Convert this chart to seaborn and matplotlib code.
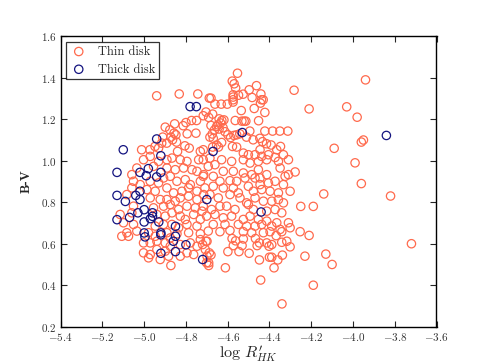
import numpy as np
import pandas as pd
import matplotlib
matplotlib.use("Agg")
import matplotlib.pyplot as plt
import seaborn as sns

# ---- data ----
thin_x = [
    -3.94, -4.21, -4.03, -3.98, -3.95, -3.96, -4.09, -3.99, -3.96, -4.14, -3.82, -4.19, -4.25, -4.21,
    -3.72, -4.23, -4.13, -4.10, -4.19, -4.34,
    -4.940, -4.832, -4.743, -4.688, -4.749, -4.773, -4.800, -4.813, -4.854, -4.899, -4.877, -4.857,
    -4.848, -4.872, -4.864, -4.845, -4.892, -4.911, -4.916, -4.948, -4.931, -4.972, -4.794, -4.752,
    -4.805, -4.784, -5.012,
    -4.553, -4.578, -4.569, -4.562, -4.462, -4.497, -4.282, -4.526, -4.548, -4.574, -4.574, -4.574,
    -4.574, -4.441, -4.680, -4.483, -4.438, -4.430, -4.443, -4.661, -4.631, -4.602, -4.535, -4.473,
    -4.422, -4.704, -4.717, -4.691, -4.672, -4.641, -4.628, -4.618, -4.634, -4.647, -4.564, -4.532,
    -4.521, -4.513, -4.452, -4.680, -4.653, -4.663, -4.674, -4.685, -4.669, -4.641, -4.622, -4.613,
    -4.599, -4.586, -4.570, -4.557, -4.542, -4.494, -4.422, -4.385, -4.350, -4.312, -4.510, -4.478,
    -4.446, -4.433, -4.414, -4.392, -4.347, -4.629, -4.653, -4.672, -4.644, -4.577, -4.557,
    -4.840, -4.731, -5.003, -4.971, -4.931, -4.891, -4.867, -4.827, -4.795, -4.739, -5.035, -5.059,
    -4.955, -4.891, -4.851, -4.811, -4.771, -4.747, -4.715, -5.051, -5.019, -4.971, -4.931, -4.907,
    -4.875, -4.843, -4.803, -4.779, -4.731, -5.059, -4.987, -4.947, -4.891, -4.859, -4.819, -4.787,
    -4.747, -4.715, -5.083, -4.971, -4.923, -4.891, -4.851, -4.827, -4.787, -4.747, -5.051, -4.955,
    -4.907, -4.875, -4.835, -4.795, -4.755, -4.723, -5.115, -5.059, -4.939, -4.899, -4.867, -4.827,
    -4.803, -4.763, -4.731, -5.099, -5.051, -4.947, -4.907, -4.867, -4.835, -4.795, -4.747, -5.083,
    -5.035, -4.979, -4.891, -4.843, -4.787, -4.731,
    -5.107, -5.075, -4.947, -4.875, -4.731, -4.699, -5.003, -4.971, -4.939, -4.899, -4.875, -4.827,
    -4.779, -4.747, -4.707, -5.003, -4.971, -4.939, -4.899, -4.883, -4.827, -4.795, -4.763, -4.699,
    -4.979, -4.923, -4.872, -4.691,
    -4.717, -4.445, -4.365, -4.525, -4.501, -4.469, -4.437, -4.405, -4.373, -4.333, -4.717, -4.685,
    -4.629, -4.581, -4.525, -4.493, -4.453, -4.413, -4.357, -4.309, -4.693, -4.661, -4.621, -4.573,
    -4.525, -4.485, -4.453, -4.445, -4.413, -4.349, -4.325, -4.309, -4.277, -4.717, -4.669, -4.637,
    -4.589, -4.557, -4.517, -4.469, -4.445, -4.405, -4.373, -4.333, -4.709, -4.669, -4.621, -4.573,
    -4.549, -4.501, -4.477, -4.437, -4.397, -4.357, -4.301, -4.685, -4.645, -4.589, -4.541, -4.509,
    -4.469, -4.429, -4.389, -4.357, -4.333, -4.717, -4.677, -4.637, -4.605, -4.565, -4.501, -4.477,
    -4.413, -4.373, -4.341, -4.701, -4.661, -4.621, -4.581, -4.525, -4.493, -4.453, -4.413, -4.365,
    -4.309, -4.669, -4.613, -4.549, -4.509, -4.469, -4.437, -4.389, -4.349, -4.301, -4.693, -4.637,
    -4.589, -4.525, -4.485, -4.429, -4.397, -4.341, -4.253,
    -4.704, -4.720, -4.701, -4.691, -4.688, -4.680, -4.579, -4.562, -4.525, -4.531, -4.573, -4.599,
    -4.546, -4.497, -4.368, -4.467, -4.448, -4.459, -4.413, -4.402, -4.389, -4.341, -4.317, -4.301,
    -4.338, -4.400, -4.389, -4.360, -4.448, -4.611, -4.378, -4.442,
]
thin_y = [
    1.39, 1.25, 1.26, 1.21, 1.10, 1.09, 1.06, 0.99, 0.89, 0.84, 0.83, 0.78, 0.78, 0.64,
    0.60, 0.54, 0.55, 0.50, 0.40, 0.31,
    1.313, 1.322, 1.322, 1.302, 1.194, 1.194, 1.184, 1.169, 1.178, 1.162, 1.149, 1.133,
    1.125, 1.114, 1.101, 1.090, 1.085, 1.114, 1.085, 1.069, 1.061, 1.053, 1.130, 1.133,
    1.072, 1.061, 1.053,
    1.422, 1.384, 1.371, 1.351, 1.362, 1.342, 1.340, 1.321, 1.316, 1.318, 1.307, 1.294,
    1.283, 1.322, 1.302, 1.305, 1.294, 1.294, 1.278, 1.273, 1.273, 1.273, 1.242, 1.252,
    1.233, 1.235, 1.217, 1.209, 1.225, 1.202, 1.194, 1.197, 1.182, 1.173, 1.194, 1.191,
    1.191, 1.191, 1.193, 1.170, 1.165, 1.149, 1.129, 1.114, 1.108, 1.153, 1.159, 1.140,
    1.125, 1.112, 1.122, 1.125, 1.130, 1.143, 1.143, 1.143, 1.143, 1.143, 1.114, 1.101,
    1.108, 1.092, 1.082, 1.076, 1.069, 1.088, 1.076, 1.066, 1.066, 1.069, 1.066,
    1.045, 1.045, 1.005, 1.021, 0.997, 1.005, 1.013, 1.005, 0.997, 1.005, 0.965, 0.933,
    0.973, 0.965, 0.957, 0.965, 0.957, 0.949, 0.933, 0.901, 0.885, 0.901, 0.893, 0.917,
    0.925, 0.901, 0.909, 0.885, 0.901, 0.869, 0.861, 0.853, 0.869, 0.845, 0.853, 0.869,
    0.853, 0.837, 0.837, 0.821, 0.813, 0.813, 0.805, 0.821, 0.829, 0.813, 0.781, 0.773,
    0.781, 0.789, 0.765, 0.781, 0.773, 0.757, 0.741, 0.749, 0.741, 0.733, 0.749, 0.733,
    0.717, 0.741, 0.717, 0.701, 0.693, 0.685, 0.693, 0.693, 0.677, 0.693, 0.685, 0.653,
    0.661, 0.653, 0.653, 0.648, 0.653, 0.648,
    0.636, 0.636, 0.636, 0.628, 0.620, 0.612, 0.604, 0.604, 0.612, 0.604, 0.588, 0.596,
    0.604, 0.588, 0.572, 0.556, 0.548, 0.572, 0.564, 0.540, 0.540, 0.556, 0.548, 0.540,
    0.532, 0.524, 0.495, 0.508,
    1.053, 1.053, 1.053, 1.037, 1.029, 1.029, 1.021, 1.029, 1.016, 1.029, 1.005, 1.013,
    1.005, 0.997, 1.005, 0.989, 0.997, 1.005, 0.997, 1.005, 0.973, 0.981, 0.949, 0.949,
    0.941, 0.933, 0.957, 0.917, 0.933, 0.965, 0.925, 0.933, 0.946, 0.925, 0.925, 0.901,
    0.904, 0.901, 0.917, 0.917, 0.885, 0.893, 0.901, 0.885, 0.869, 0.877, 0.869, 0.869,
    0.845, 0.877, 0.853, 0.861, 0.853, 0.845, 0.853, 0.837, 0.821, 0.837, 0.821, 0.797,
    0.821, 0.805, 0.805, 0.813, 0.797, 0.781, 0.765, 0.781, 0.781, 0.765, 0.789, 0.765,
    0.757, 0.765, 0.749, 0.733, 0.741, 0.725, 0.733, 0.717, 0.733, 0.717, 0.709, 0.701,
    0.701, 0.693, 0.693, 0.693, 0.685, 0.685, 0.693, 0.685, 0.669, 0.677, 0.661, 0.658,
    0.664, 0.658, 0.653, 0.653, 0.658, 0.658, 0.658,
    0.612, 0.596, 0.508, 0.495, 0.556, 0.546, 0.625, 0.614, 0.623, 0.591, 0.591, 0.562,
    0.562, 0.554, 0.639, 0.625, 0.604, 0.591, 0.604, 0.588, 0.596, 0.607, 0.612, 0.585,
    0.545, 0.535, 0.535, 0.522, 0.522, 0.484, 0.484, 0.425,
]
thick_x = [
    -4.94, -5.10, -4.78, -4.75, -4.53, -4.67, -4.92, -5.13, -5.02, -4.98, -4.99, -4.94, -4.92,
    -5.13, -5.09, -5.04, -5.02, -5.02, -5.00, -5.03, -5.07, -5.13, -4.96, -4.97, -4.96, -5.00,
    -4.93, -4.85, -5.00, -4.996, -4.92, -4.92, -4.85, -4.86, -4.80, -4.85, -4.92, -4.72, -4.70,
    -3.84, -4.44,
]
thick_y = [
    1.105, 1.053, 1.261, 1.261, 1.136, 1.045, 1.024, 0.944, 0.944, 0.962, 0.928, 0.922, 0.944,
    0.833, 0.804, 0.833, 0.853, 0.813, 0.764, 0.749, 0.727, 0.716, 0.732, 0.721, 0.749, 0.705,
    0.705, 0.684, 0.652, 0.633, 0.652, 0.643, 0.636, 0.612, 0.595, 0.562, 0.554, 0.524, 0.813,
    1.122, 0.753,
]
labels = ["Thin disk", "Thick disk"]
x_ticks = [-5.4, -5.2, -5.0, -4.8, -4.6, -4.4, -4.2, -4.0, -3.8, -3.6]
y_ticks = [0.2, 0.4, 0.6, 0.8, 1.0, 1.2, 1.4, 1.6]

sns.set_style("ticks")
plt.rcParams.update({
    "font.family": ["cmr10", "DejaVu Serif"],
    "mathtext.fontset": "cm",
    "axes.formatter.use_mathtext": True,
    "axes.unicode_minus": True,
    "axes.edgecolor": "black",
    "axes.linewidth": 1.0,
    "xtick.direction": "in",
    "ytick.direction": "in",
    "xtick.top": True,
    "ytick.right": True,
})

df = pd.DataFrame({
    "logR": thin_x + thick_x,
    "BV": thin_y + thick_y,
    "pop": [labels[0]] * len(thin_x) + [labels[1]] * len(thick_x),
})
colors = {labels[0]: "#ff6a4d", labels[1]: "#141480"}

fig = plt.figure(figsize=(4.85, 3.63), dpi=100)
ax = fig.add_axes([0.125, 0.1, 0.775, 0.8])

for lab in labels:
    sub = df[df["pop"] == lab]
    sns.scatterplot(data=sub, x="logR", y="BV", ax=ax, marker="o", s=36,
                    linewidth=0.9, label=lab)
    coll = ax.collections[-1]
    coll.set_facecolor("none")
    coll.set_edgecolor(colors[lab])

ax.set_xlim(-5.4, -3.6)
ax.set_ylim(0.2, 1.6)
ax.set_xticks(x_ticks)
ax.set_yticks(y_ticks)
ax.tick_params(which="both", direction="in", top=True, right=True, length=4,
               width=0.8, labelsize=8, pad=3, labelcolor="#333333")
ax.set_xlabel(r"$\log\,R^{\prime}_{HK}$", fontsize=11.5, labelpad=0)
ax.set_ylabel("B-V", fontsize=9.5, fontweight="bold", family=["cmb10", "DejaVu Serif"],
              labelpad=6)

leg = ax.legend(loc="upper left", frameon=True, fancybox=False, edgecolor="black",
                fontsize=9, scatterpoints=1, borderpad=0.3, handlelength=1.4,
                handletextpad=0.8, labelspacing=0.45, borderaxespad=0.45)
leg.get_frame().set_linewidth(0.9)
for h, lab in zip(leg.legend_handles, labels):
    h.set_facecolor("none")
    h.set_edgecolor(colors[lab])

fig.savefig("out.png", dpi=100)
